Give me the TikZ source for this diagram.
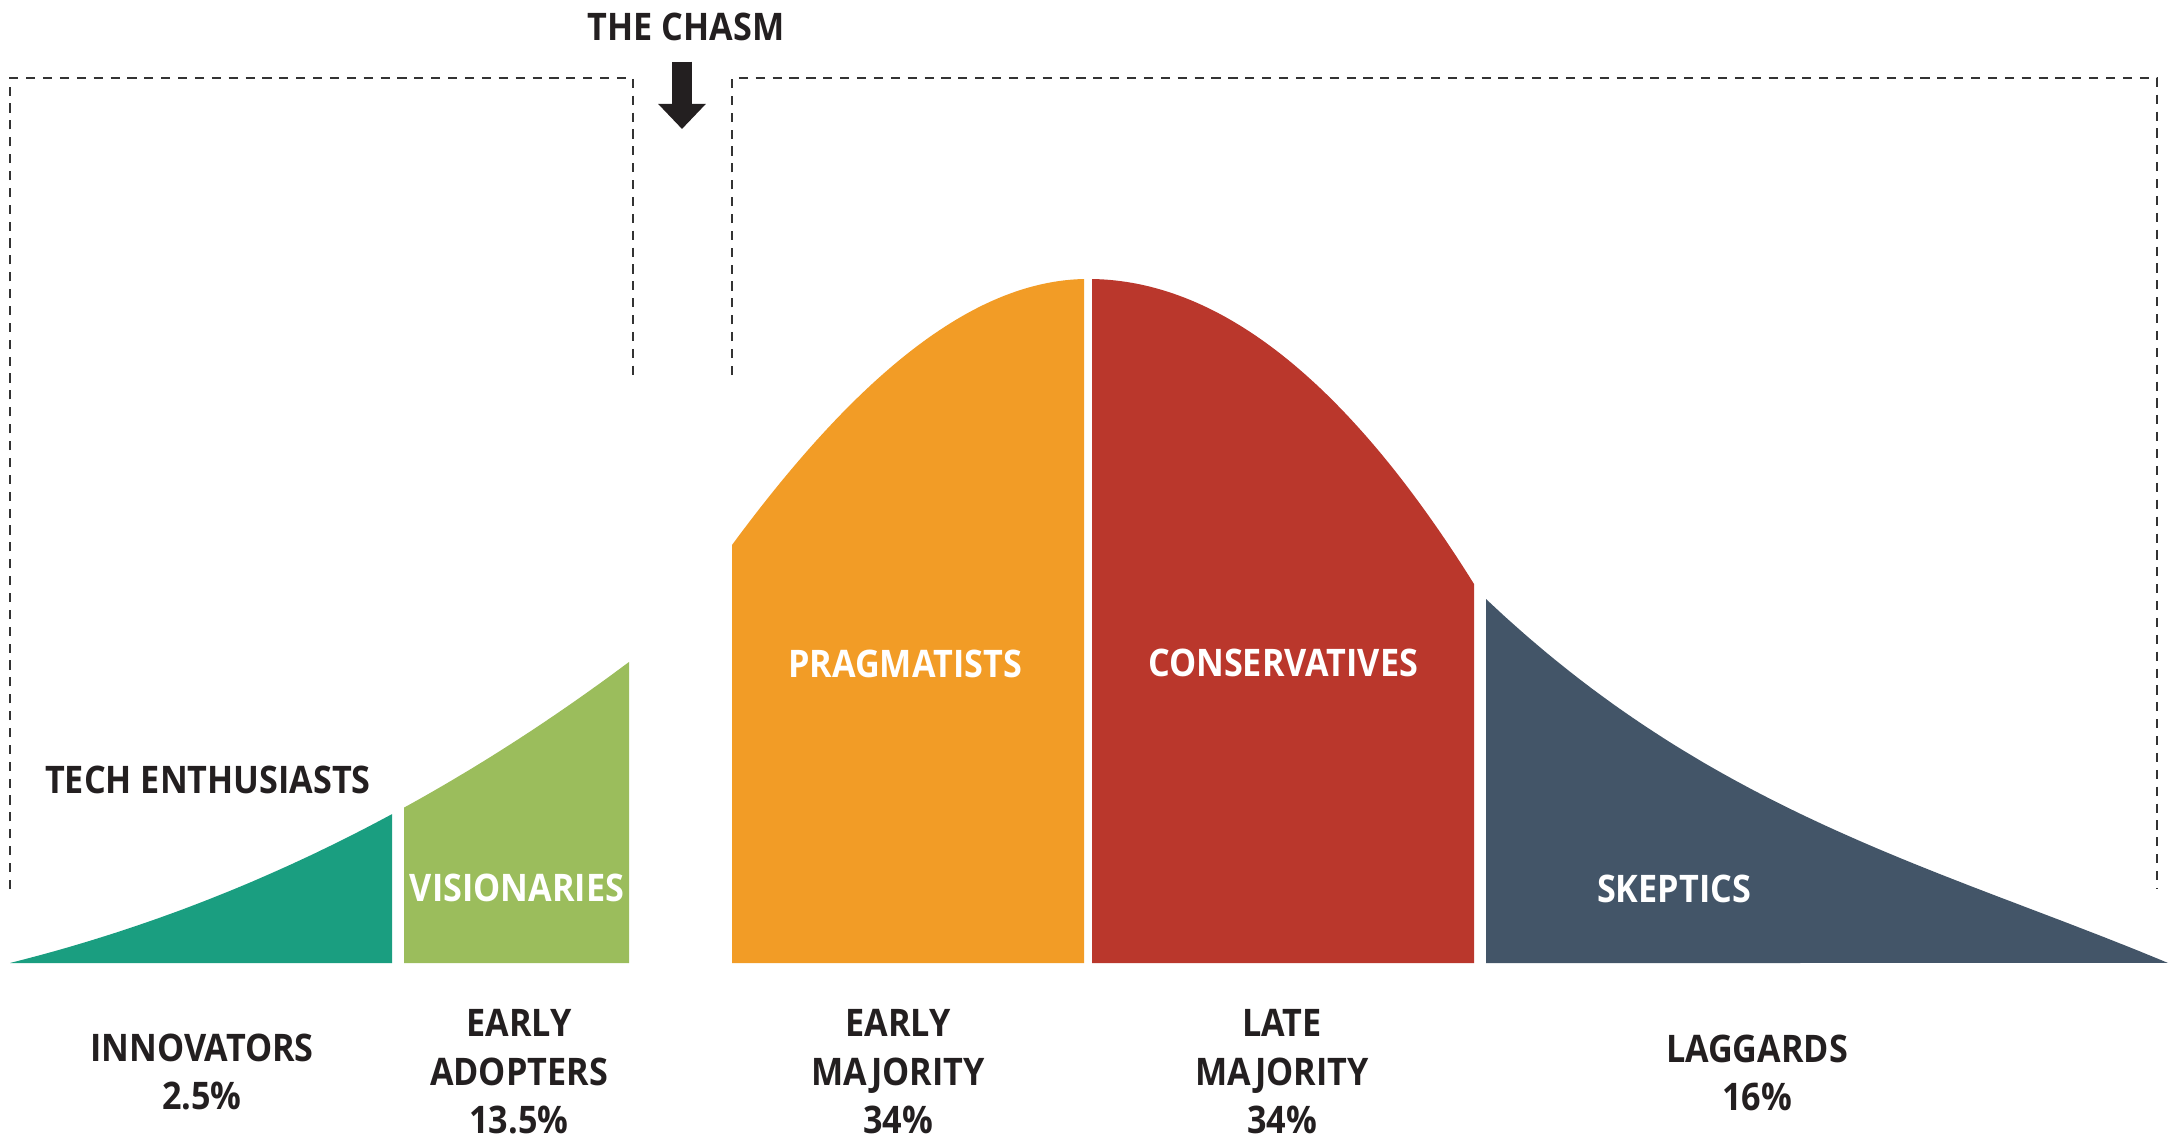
\documentclass[tikz,border=0pt]{standalone}
\usepackage{fontspec}
\setmainfont{Open Sans}[FakeStretch=0.9]
\usetikzlibrary{arrows.meta}

\definecolor{innocol}{HTML}{1A9E80}
\definecolor{earlycol}{HTML}{9BBD5C}
\definecolor{majcol}{HTML}{F29C26}
\definecolor{latecol}{HTML}{BA372C}
\definecolor{lagcol}{HTML}{435568}
\definecolor{inkcol}{HTML}{231F20}

\begin{document}
\begin{tikzpicture}[x=0.01cm, y=-0.01cm,
    declare function={bez(\t,\a,\b,\c,\d)=(1-\t)^3*\a+3*(1-\t)^2*\t*\b+3*(1-\t)*\t^2*\c+\t^3*\d;
      lefty(\x)=bez((\x-10)/619,963,911.5,816.5,662);
      midy(\x)=bez((\x-732)/356,545,384,279,279);
      righty(\x)=bez((\x-1088)/386,279,279,378,584);
      taily(\x)=bez((\x-1486)/682,599,815,868,963);},
    grouptext/.style={font=\bfseries\fontsize{10.8}{13.8}\selectfont, align=center, inner sep=0pt, text=inkcol},
    intext/.style={grouptext, text=white},
    bracket/.style={draw=black!80, line width=0.6pt, dash pattern=on 2.6pt off 2.2pt},
    chasmarrow/.style={draw=inkcol, line width=0.2cm, -{Triangle[width=0.46cm, length=0.25cm]}, shorten <=0.2cm}]
    \useasboundingbox (0,0) rectangle (2177,1139);

    \draw [bracket] (10,889) -- (10,78) -- (633,78) -- (633,375);
    \draw [bracket] (732,375) -- (732,78) -- (2157,78) -- (2157,888);

    \fill[innocol, domain=10:392, samples=50, smooth, variable=\x]
    plot ({\x}, {lefty(\x)}) -- (392,963) -- (10,963) -- cycle;
    \fill[earlycol, domain=404:629, samples=40, smooth, variable=\x]
    plot ({\x}, {lefty(\x)}) -- (629,963) -- (404,963) -- cycle;
    \fill[majcol, domain=732:1084, samples=50, smooth, variable=\x]
    plot ({\x}, {midy(\x)}) -- (1084,963) -- (732,963) -- cycle;
    \fill[latecol, domain=1092:1474, samples=50, smooth, variable=\x]
    plot ({\x}, {righty(\x)}) -- (1474,963) -- (1092,963) -- cycle;
    \fill[lagcol, domain=1486:2168, samples=70, smooth, variable=\x]
    plot ({\x}, {taily(\x)}) -- (1486,963) -- cycle;

    \node[grouptext] (chasm) at (686,27) {THE CHASM};
    \coordinate (gap) at (682,129);
    \draw [chasmarrow] (chasm.south -| gap) -- (gap);

    \node[grouptext] (enthus) at (208,780) {TECH ENTHUSIASTS};
    \node[intext] (vision) at (517,888) {VISIONARIES};
    \node[intext] (pragma) at (905,664) {PRAGMATISTS};
    \node[intext] (conserv) at (1283,663) {CONSERVATIVES};
    \node[intext] (skept) at (1674,889) {SKEPTICS};

    \node[grouptext] (innov) at (202,1072) {INNOVATORS\\2.5\%};
    \node[grouptext] (adopt) at (519,1072) {EARLY\\ADOPTERS\\13.5\%};
    \node[grouptext] (earlymaj) at (898,1072) {EARLY\\MAJORITY\\34\%};
    \node[grouptext] (latemaj) at (1282,1072) {LATE\\MAJORITY\\34\%};
    \node[grouptext] (lagg) at (1757,1073) {LAGGARDS\\16\%};

\end{tikzpicture}
\end{document}
